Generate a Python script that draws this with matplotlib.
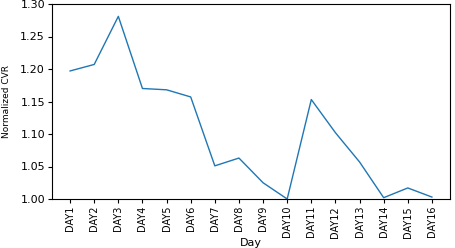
import matplotlib
matplotlib.use("Agg")
import matplotlib.pyplot as plt

days = [f"DAY{i}" for i in range(1, 17)]
cvr = [1.197, 1.207, 1.281, 1.170, 1.168, 1.157, 1.051, 1.063, 1.025, 1.000,
       1.153, 1.102, 1.057, 1.002, 1.017, 1.003]
ytick_vals = [1.00, 1.05, 1.10, 1.15, 1.20, 1.25, 1.30]
ytick_labels = ["1.00", "1.05", "1.10", "1.15", "1.20", "1.25", "1.30"]

fig = plt.figure(figsize=(4.56, 2.48), dpi=100)
ax = fig.add_axes([52/456, 1 - 199/248, (450-52)/456, (199-4)/248])
ax.plot(range(len(days)), cvr, color="#1f77b4", linewidth=1.0)
ax.set_ylim(1.0, 1.3)
ax.set_yticks(ytick_vals)
ax.set_yticklabels(ytick_labels, fontsize=8)
ax.set_xticks(range(len(days)))
ax.set_xticklabels(days, rotation=90, fontsize=7)
ax.tick_params(length=3, width=0.8, pad=2)
ax.set_xlabel("Day", fontsize=8, labelpad=0.5)
ax.set_ylabel("Normalized CVR", fontsize=6.5, labelpad=7)
fig.savefig("out.png", dpi=100)
